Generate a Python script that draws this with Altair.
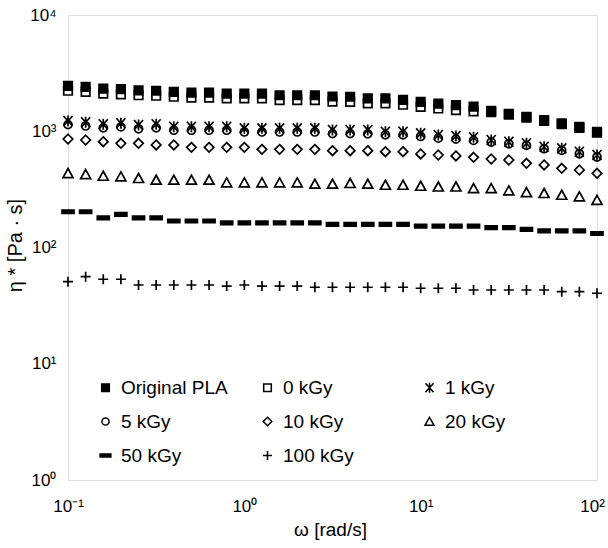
import altair as alt
import pandas as pd

# angular frequency (rad/s), 10 points per decade
omega = [0.1, 0.1259, 0.1585, 0.1995, 0.2512, 0.3162, 0.3981, 0.5012, 0.631, 0.7943,
         1, 1.259, 1.585, 1.995, 2.512, 3.162, 3.981, 5.012, 6.31, 7.943,
         10, 12.59, 15.85, 19.95, 25.12, 31.62, 39.81, 50.12, 63.1, 79.43, 100]

orig_pla = [2460, 2410, 2330, 2300, 2250, 2230, 2180, 2150, 2150, 2110, 2110, 2110, 2040, 2040, 2040,
            1990, 1980, 1920, 1920, 1860, 1790, 1730, 1680, 1630, 1500, 1410, 1330, 1250, 1170, 1090, 990]
kgy0 = [2230, 2180, 2110, 2080, 2040, 2020, 1980, 1950, 1950, 1920, 1920, 1920, 1850, 1850, 1850,
        1800, 1790, 1740, 1740, 1690, 1620, 1570, 1520, 1480, 1460, 1390, 1310, 1230, 1150, 1070, 975]
kgy1 = [1225, 1195, 1148, 1171, 1132, 1148, 1094, 1094, 1094, 1094, 1060, 1060, 1060, 1060, 1060,
        1025, 1025, 1025, 991, 991, 960, 928, 910, 887, 841, 813, 788, 736, 713, 667, 625]
kgy5 = [1140, 1110, 1070, 1090, 1050, 1070, 1020, 1020, 1020, 1020, 985, 985, 985, 985, 985,
        955, 955, 950, 932, 932, 902, 872, 855, 834, 807, 780, 756, 707, 684, 640, 600]
kgy10 = [858, 841, 813, 788, 788, 762, 762, 727, 727, 727, 727, 699, 699, 699, 699,
         680, 680, 680, 667, 667, 638, 625, 613, 597, 577, 566, 530, 513, 480, 464, 435]
kgy20 = [435, 426, 412, 407, 394, 381, 381, 381, 381, 361, 361, 361, 361, 361, 352,
         352, 357, 352, 345, 345, 338, 333, 333, 323, 323, 308, 298, 293, 283, 274, 256]
kgy50 = [203, 203, 180, 193, 180, 180, 169, 169, 169, 163, 163, 163, 163, 163, 163,
         158, 158, 158, 158, 158, 153, 153, 153, 153, 148, 148, 143, 139, 139, 139, 132]
kgy100 = [50.8, 56.1, 53.3, 53.3, 47.6, 47.6, 47.6, 47.6, 47.6, 46.6, 47.6, 46.6, 46.6, 46.6, 45.5,
          45.5, 45.5, 45.5, 45.5, 45.5, 44.6, 44.6, 44.6, 43.1, 43.1, 43.1, 43.1, 43.1, 41.7, 41.7, 40.4]

series_names = ["Original PLA", "0 kGy", "1 kGy", "5 kGy", "10 kGy", "20 kGy", "50 kGy", "100 kGy"]
series_values = {
    "Original PLA": orig_pla, "0 kGy": kgy0, "1 kGy": kgy1, "5 kGy": kgy5,
    "10 kGy": kgy10, "20 kGy": kgy20, "50 kGy": kgy50, "100 kGy": kgy100,
}
# drawing order (later rows are drawn on top)
draw_order = ["0 kGy", "Original PLA", "5 kGy", "1 kGy", "10 kGy", "20 kGy", "50 kGy", "100 kGy"]

SQUARE = "M-0.85,-0.85H0.85V0.85H-0.85Z"
STAR = "M-0.9,-1L0.9,1M0.9,-1L-0.9,1M0,-1.1V1.1"
CIRCLE = "M0.8,0A0.8,0.8,0,1,1,-0.8,0A0.8,0.8,0,1,1,0.8,0Z"
DIAMOND = "M0,-0.95L0.95,0L0,0.95L-0.95,0Z"
TRIANGLE = "M0,-0.95L1,0.85L-1,0.85Z"
DASH = "M-1.2,-0.35H1.2V0.35H-1.2Z"
PLUS = "M-1,0H1M0,-1V1"

shapes = [SQUARE, SQUARE, STAR, CIRCLE, DIAMOND, TRIANGLE, DASH, PLUS]
fills = ["black", "white", "white", "white", "white", "white", "black", "white"]
strokes = ["black"] * 8

rows = []
for name in draw_order:
    for w, v in zip(omega, series_values[name]):
        rows.append({"omega": w, "eta": v, "series": name})
df = pd.DataFrame(rows)

FONT = "Liberation Sans"
sup_x = "['10⁻¹','10⁰','10¹','10²','10³','10⁴'][round(log(datum.value)/LN10)+1]"
sup_y = "['10⁰','10¹','10²','10³','10⁴'][round(log(datum.value)/LN10)]"

legend = alt.Legend(
    title=None, orient="none", legendX=28, legendY=363, columns=3, direction="horizontal",
    gridAlign="all", columnPadding=30, rowPadding=14, labelOffset=6, symbolSize=80,
    labelFont=FONT, labelFontSize=19, labelColor="black",
    symbolStrokeColor="black", symbolStrokeWidth=1.5, padding=0,
)

chart = alt.Chart(df).mark_point(
    filled=True, size=100, stroke="black", strokeWidth=1.7, opacity=1
).encode(
    x=alt.X("omega:Q",
            scale=alt.Scale(type="log", domain=[0.1, 100], nice=False),
            axis=alt.Axis(values=[0.1, 1, 10, 100], labelExpr=sup_x, ticks=False, domain=False,
                          grid=False, labelFont=FONT, labelFontSize=17, labelColor="black",
                          labelPadding=18, labelFlush=False, labelOverlap=False,
                          labelOffset={"condition": {"test": "datum.value >= 100", "value": -5},
                                       "value": 0},
                          title="ω [rad/s]", titleFont=FONT, titleFontSize=19,
                          titleFontWeight="normal", titleColor="black",
                          titleX=262, titleY=49, titleBaseline="middle", titleAlign="center")),
    y=alt.Y("eta:Q",
            scale=alt.Scale(type="log", domain=[1, 10000], nice=False),
            axis=alt.Axis(values=[1, 10, 100, 1000, 10000], labelExpr=sup_y, ticks=False,
                          domain=False, grid=False, labelFont=FONT, labelFontSize=17,
                          labelColor="black", labelPadding=12, labelFlush=False,
                          labelOverlap=False,
                          title="η * [Pa · s]", titleFont=FONT, titleFontSize=20,
                          titleFontWeight="normal", titleColor="black", titleAngle=-90,
                          titleX=-53, titleY=230, titleBaseline="middle", titleAlign="center")),
    shape=alt.Shape("series:N", scale=alt.Scale(domain=series_names, range=shapes), legend=legend),
    fill=alt.Fill("series:N", scale=alt.Scale(domain=series_names, range=fills), legend=legend),
    stroke=alt.Stroke("series:N", scale=alt.Scale(domain=series_names, range=strokes), legend=legend),
).properties(
    width=529, height=465,
    autosize=alt.AutoSizeParams(type="none"),
    padding={"left": 68, "top": 15, "right": 11, "bottom": 68},
).configure_view(
    stroke="#888888", strokeWidth=1.5
).configure(background="white")

chart.save("out.html", embed_options={"renderer": "svg", "actions": False})
